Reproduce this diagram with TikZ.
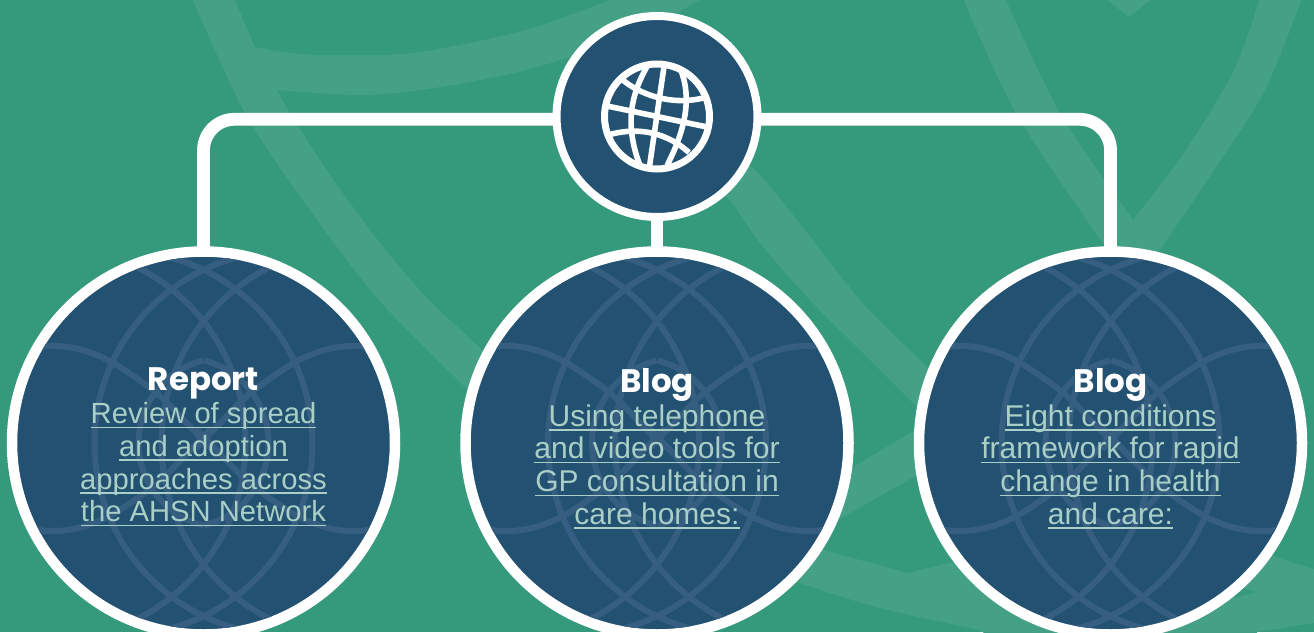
\documentclass[tikz,border=0pt]{standalone}
\usepackage{fontspec}
\setmainfont{Liberation Sans}
\newfontfamily\titlefont{Poppins}
\definecolor{bgreen}{HTML}{359A7B}
\definecolor{bandgreen}{HTML}{44A186}
\definecolor{navy}{HTML}{235172}
\definecolor{pattline}{HTML}{365E80}
\definecolor{linktext}{HTML}{A9CFC6}
\pgfdeclarelayer{bands}
\pgfdeclarelayer{links}
\pgfsetlayers{bands,links,main}
\newcommand\lk[1]{\setbox0=\hbox{#1}\rlap{\raisebox{-4.6pt}{\rule{\wd0}{1.5pt}}}\box0}
\tikzset{
  bandshape/.style={fill=bandgreen,draw=none},
  linkline/.style={draw=white,line width=12.8pt},
  bigcircle/.style={circle,draw=white,fill=navy,line width=10.5pt,minimum size=383pt,inner sep=0pt,outer sep=0pt},
  hubcircle/.style={circle,draw=white,fill=navy,line width=8pt,minimum size=201pt,inner sep=0pt,outer sep=0pt},
  pattern line/.style={draw=pattline,line width=6pt},
  globe line/.style={draw=white,line width=5.6pt,line cap=butt},
  titletext/.style={anchor=base,text=white,font=\titlefont\bfseries\fontsize{32.5}{34}\selectfont},
  bodytext/.style={anchor=base,text=linktext,align=center,font=\fontsize{29.2}{32.7}\selectfont},
  bodywide/.style={anchor=base,text=linktext,align=center,font=\fontsize{30}{32.7}\selectfont},
}
\begin{document}
\begin{tikzpicture}[x=1pt,y=-1pt]
\useasboundingbox (0,0) rectangle (1314,632);
\begin{pgfonlayer}{bands}
\fill[bgreen] (0,0) rectangle (1314,632);
% left sweep
\fill[bandshape] plot[smooth] coordinates {(192,-2)(245,113)(310,210)(379,300)(466,388)(520,440)} -- plot[smooth] coordinates {(530,400)(482,350)(429,300)(380,243)(330,175)(290,113)(277,90)(255,47)(234,-2)} -- cycle;
% top arc
\fill[bandshape] plot[smooth] coordinates {(255,47)(300,54)(358,55)(421,52)(526,30)(610,0)(640,-12)} -- (720,-12) -- plot[smooth] coordinates {(640,35)(568,58)(505,75)(421,90)(358,95)(277,90)} -- cycle;
% right V
\fill[bandshape] plot[smooth] coordinates {(963,-2)(1016,113)(1104,245)(1150,310)} -- plot[smooth] coordinates {(1190,290)(1133,220)(1060,113)(1005,-2)} -- cycle;
\fill[bandshape] plot[smooth] coordinates {(1260,-2)(1234,70)(1184,153)(1133,220)(1100,262)} -- plot[smooth] coordinates {(1130,290)(1163,245)(1216,167)(1265,90)(1302,-2)} -- cycle;
\fill[bandshape] (1106,-1) -- (1129,17) -- (1152,-1) -- cycle;
% middle sweep
\fill[bandshape] plot[smooth] coordinates {(715,150)(760,175)(860,300)(920,360)(960,400)} -- plot[smooth] coordinates {(925,415)(910,400)(860,350)(810,300)(760,243)(727,197)(690,170)} -- cycle;
% diagonal between circles
\fill[bandshape] (830,481) -- (853,467) -- (915,430) -- (945,412) -- (945,458) -- (917,475) -- (838,520) -- (815,533) -- cycle;
% bottom sweep
\fill[bandshape] (800,535) -- (823,550) -- (908,573) -- (953,562) -- (1000,545) -- (1250,545) -- (1275,557) -- (1320,571) -- (1320,622) -- (1257,632) -- (1257,645) -- (1000,645) -- plot[smooth] coordinates {(980,630)(880,608)(797,582)(770,570)} -- cycle;
\fill[bgreen] (1232,598) -- (1243,588) -- (1257,592) -- cycle;
\end{pgfonlayer}

\node[hubcircle] (hub) at (657,116.5) {};
\node[bigcircle] (c1) at (203.5,443) {};
\node[bigcircle] (c2) at (657,443) {};
\node[bigcircle] (c3) at (1110.5,443) {};
\coordinate (bus) at (657,119.3);

\begin{pgfonlayer}{links}
\draw[linkline,rounded corners=31pt] (bus) -| (c1.north);
\draw[linkline,rounded corners=31pt] (bus) -| (c3.north);
\draw[linkline] (hub) -- (c2);
\end{pgfonlayer}

% crest inside each circle
\foreach \n in {c1,c2,c3}{
\begin{scope}
\clip (\n) circle[radius=186.2];
\begin{scope}[shift={(\n.center)}]
\draw[pattern line] (83,0) circle[radius=192];
\draw[pattern line] (-83,0) circle[radius=192];
\draw[pattern line] (155,0) circle[radius=197];
\draw[pattern line] (-155,0) circle[radius=197];
\draw[pattern line] plot[domain=104:256,samples=40] ({20+85*cos(\x)},{85*sin(\x)});
\draw[pattern line] plot[domain=-76:76,samples=40] ({-20+85*cos(\x)},{85*sin(\x)});
\draw[pattern line] plot[smooth] coordinates {(-195,-89)(-157,-97)(-125,-94)(-92,-81)(-47,-50)(-13,-16)(8,6)};
\draw[pattern line] plot[smooth] coordinates {(195,-89)(157,-97)(125,-94)(92,-81)(47,-50)(13,-16)(-8,6)};
\draw[pattern line] plot[smooth] coordinates {(-195,80)(-157,88)(-125,85)(-92,72)(-47,41)(-13,7)(8,-15)};
\draw[pattern line] plot[smooth] coordinates {(195,80)(157,88)(125,85)(92,72)(47,41)(13,7)(-8,-15)};
\end{scope}
\end{scope}
}

% globe
\begin{scope}[shift={(hub.center)}]
\draw[draw=white,line width=7pt] (0,0) circle[radius=52.5];
\draw[globe line] (-50,-10.5) -- (50,10.5);
\draw[globe line] (7,-50) -- (-7.5,50);
\draw[globe line] (-10,-50) .. controls (-24,-25) and (-34,5) .. (-17,49);
\draw[globe line] (24,-46) .. controls (34,-20) and (30,10) .. (10,49);
\draw[globe line] (-36,-38) .. controls (-18,-22) and (15,-10) .. (48,-19);
\draw[globe line] (-47,18) .. controls (-25,12) and (5,12) .. (32,36);
\end{scope}

\node[titletext] (t1) at (203.5,390.7) {Report};
\node[titletext] (t2) at (657,392.7) {Blog};
\node[titletext] (t3) at (1110.5,392.7) {Blog};
\node[bodytext] (b1) at (203.5,521.7) {\lk{Review of spread}\\\lk{and adoption}\\\lk{approaches across}\\\lk{the AHSN Network}};
\node[bodywide] (b2) at (657,524.2) {\lk{Using telephone}\\\lk{and video tools for}\\\lk{GP consultation in}\\\lk{care homes:}};
\node[bodywide] (b3) at (1110.5,524.2) {\lk{Eight conditions}\\\lk{framework for rapid}\\\lk{change in health}\\\lk{and care:}};
\end{tikzpicture}
\end{document}
